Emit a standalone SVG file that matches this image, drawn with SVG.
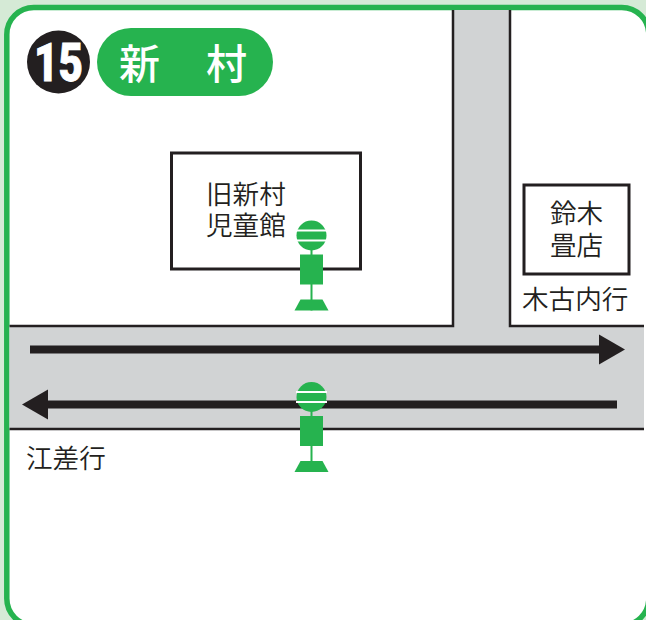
<svg xmlns="http://www.w3.org/2000/svg" width="646" height="620" viewBox="0 0 646 620">
<style>
.t{font-family:"Noto Sans CJK JP","Liberation Sans",sans-serif;font-size:26.6px;fill:#231f20;font-weight:350}
.h{font-family:"Noto Sans CJK JP","Liberation Sans",sans-serif;font-size:41px;fill:#fff;font-weight:500}
.g{fill:#26b34f}
.l{fill:none;stroke:#231f20}
</style>
<defs>
<g id="stop">
<circle cx="0" cy="15" r="15" class="g"/>
<rect x="-15.500" y="9" width="31" height="2" fill="#fff"/>
<rect x="-15.500" y="19" width="31" height="2" fill="#fff"/>
<rect x="-1" y="28" width="2" height="62" class="g"/>
<rect x="-11.500" y="34" width="23" height="30" class="g"/>
<polygon points="-11,79 11,79 17,90 -17,90" class="g"/>
</g>
</defs>
<rect width="646" height="620" fill="#d5ead6"/>
<rect x="6.800" y="7.500" width="642" height="618" rx="27" fill="#fff" stroke="#26b34f" stroke-width="5.500"/>
<g id="roads">
<path d="M453 10H510V326H644V429H9.500V326H453Z" fill="#d1d3d4"/>
<path class="l" d="M453 10V326H9.500M510 10V326H644M9.500 429H644" stroke-width="2.500"/>
</g>
<g id="header">
<circle cx="58.500" cy="62" r="31.500" fill="#231f20"/>
<text x="34" y="81" textLength="49" lengthAdjust="spacingAndGlyphs" font-family="Roboto,'Liberation Sans',sans-serif" font-weight="900" font-size="54" fill="#fff" stroke="#fff" stroke-width="0.800">15</text>
<rect x="97" y="28" width="176" height="68" rx="34" class="g"/>
<text x="119" y="79" class="h">新</text>
<text x="206" y="79" class="h">村</text>
</g>
<g id="node-kyu">
<rect x="171.500" y="153" width="189" height="116" fill="#fff" stroke="#231f20" stroke-width="3"/>
<text x="206" y="204" class="t">旧新村</text>
<text x="206" y="235" class="t">児童館</text>
</g>
<g id="node-suzuki">
<rect x="524" y="185" width="105" height="89" fill="#fff" stroke="#231f20" stroke-width="3"/>
<text x="576.500" y="223" text-anchor="middle" class="t">鈴木</text>
<text x="576.500" y="255" text-anchor="middle" class="t">畳店</text>
</g>
<g id="labels">
<text x="522" y="309" class="t">木古内行</text>
<text x="26" y="468" class="t">江差行</text>
</g>
<g id="connectors">
<path d="M30 349.500H600" stroke="#231f20" stroke-width="8" fill="none"/>
<polygon points="599,334.500 625,349.500 599,364.500" fill="#231f20"/>
<path d="M617 404.500H47" stroke="#231f20" stroke-width="8" fill="none"/>
<polygon points="48,389.500 22,404.500 48,419.500" fill="#231f20"/>
</g>
<use id="node-stop-1" href="#stop" x="311.500" y="220.500"/>
<use id="node-stop-2" href="#stop" x="311.500" y="382"/>
</svg>
